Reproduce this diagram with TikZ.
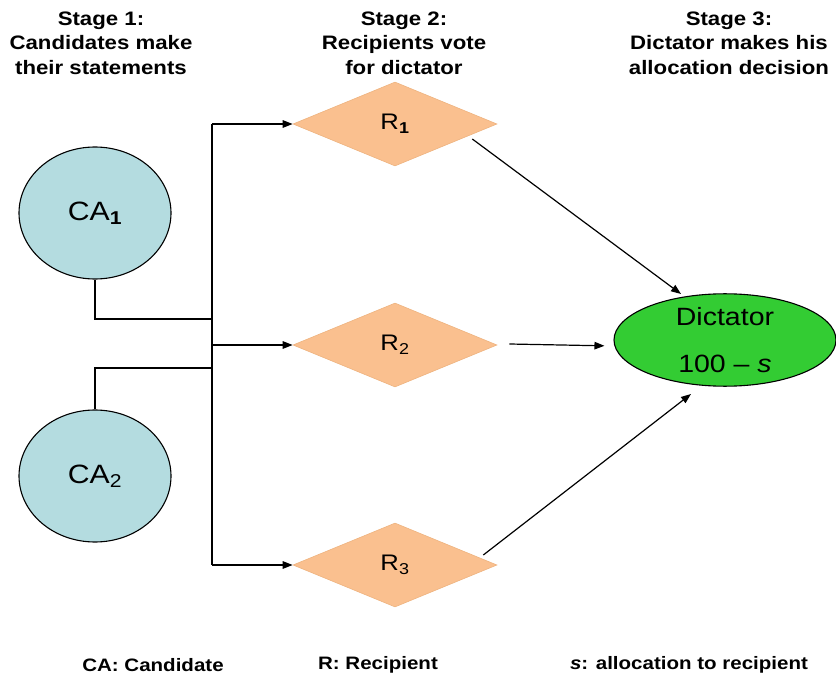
\documentclass[tikz,border=0pt]{standalone}
\usepackage{fontspec}
\setmainfont[FakeStretch=1.14]{Liberation Sans}
\usetikzlibrary{shapes.geometric,arrows.meta,calc}
\definecolor{cafill}{HTML}{B4DCE0}
\definecolor{rfill}{HTML}{FAC08F}
\definecolor{dfill}{HTML}{33CC33}
\begin{document}
\begin{tikzpicture}[x=1pt,y=-1pt,
  ln/.style={line width=1.2pt, draw=black},
  arr/.style={ln, -{Triangle[length=10pt,width=7.5pt]}},
  canode/.style={ellipse, draw, line width=1.1pt, fill=cafill, minimum width=152pt, minimum height=132pt, inner sep=0pt, font=\fontsize{26.5}{30}\selectfont},
  rnode/.style={diamond, draw=rfill!80!brown, line width=0.6pt, fill=rfill, minimum width=204pt, minimum height=84pt, inner sep=0pt, font=\fontsize{22.5}{26}\selectfont},
  dnode/.style={ellipse, draw, line width=1.1pt, fill=dfill, minimum width=222pt, minimum height=90pt, inner sep=0pt, align=center, font=\fontsize{25}{47}\selectfont},
  stage/.style={align=center, font=\bfseries\fontsize{19.5}{24.5}\selectfont},
  legend/.style={font=\bfseries\fontsize{18}{22}\selectfont}
]
\useasboundingbox (0,0) rectangle (836,679);
% nodes
\node[canode] (CA1) at (95,213) {CA\textsubscript{\bfseries 1}};
\node[canode] (CA2) at (95,476) {CA\textsubscript{2}};
\node[rnode] (R1) at (395,124) {R\textsubscript{\bfseries 1}};
\node[rnode] (R2) at (395,345) {R\textsubscript{2}};
\node[rnode] (R3) at (395,565) {R\textsubscript{3}};
\node[dnode] (D) at (725,340) {Dictator\\100 -- \textit{s}};
% stage titles
\node[stage] (S1) at (101,43) {Stage 1:\\Candidates make\\their statements};
\node[stage] (S2) at (404,43) {Stage 2:\\Recipients vote\\for dictator};
\node[stage] (S3) at (729,43) {Stage 3:\\Dictator makes his\\allocation decision};
% legend
\node[legend] (L1) at (153,665) {CA: Candidate};
\node[legend] (L2) at (378,665) {R: Recipient};
\node[legend] (L3) at (689,665) {\textit{s}: allocation to recipient};
% connectors
\coordinate (T) at (212,0);
\coordinate (j1) at (212,319);
\coordinate (j2) at (212,368);
\draw[ln] (T |- R1.west) -- (T |- R3.west);
\draw[arr] (T |- R1.west) -- (R1.west);
\draw[arr] (T |- R2.west) -- (R2.west);
\draw[arr] (T |- R3.west) -- (R3.west);
\draw[ln] (CA1.south) |- (j1);
\draw[ln] (CA2.north) |- (j2);
\draw[arr] ([shift={(-25,15)}]R1.east) -- ([shift={(-44,-46)}]D.center);
\draw[arr, shorten >=9pt] ([shift={(12,-1)}]R2.east) -- ([yshift=-1pt]R2.east -| D.west);
\draw[arr] ([shift={(-14,-10)}]R3.east) -- ([shift={(-34,54)}]D.center);
\end{tikzpicture}
\end{document}
